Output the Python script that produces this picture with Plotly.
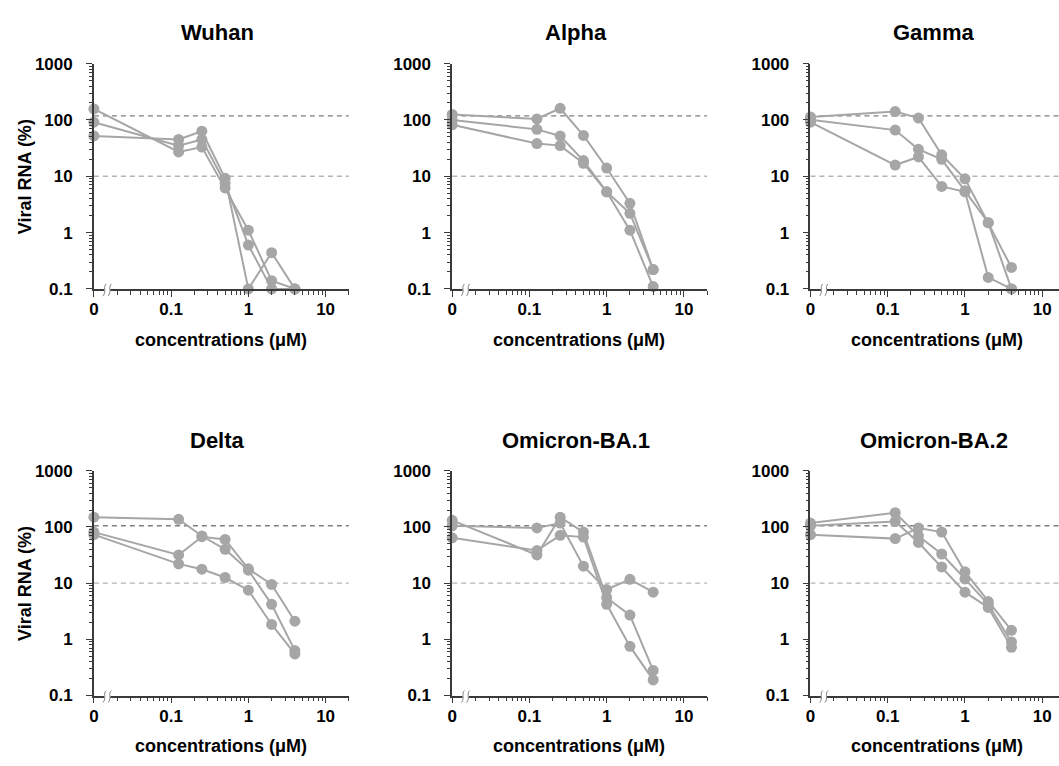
import math
import plotly.graph_objects as go

W, H = 1059, 766

# ---------------- data ----------------
conc = [0, 0.125, 0.25, 0.5, 1, 2, 4]          # µM (0 = no drug)
variants = ["Wuhan", "Alpha", "Gamma", "Delta", "Omicron-BA.1", "Omicron-BA.2"]

wuhan = [[157, 27, 33, 6.2, 1.1, 0.14, 0.1],
         [91, 35, 45, 7.5, 0.6, 0.1, 0.1],
         [52, 45, 63, 9.2, 0.1, 0.44, 0.1]]
alpha = [[125, 104, 161, 53, 14, 3.3, 0.22],
         [100, 68, 52, 19, 5.3, 2.2, 0.22],
         [82, 38, 35, 17, 5.3, 1.1, 0.11]]
gamma = [[113, 141, 108, 24, 9.0, 1.5, 0.24],
         [101, 66, 30, 20, 5.5, 1.5, 0.1],
         [91, 15.8, 22, 6.6, 5.3, 0.16, 0.1]]
delta = [[149, 137, 69, 40, 17, 4.2, 0.63],
         [81, 31.8, 67, 60, 18, 9.5, 2.1],
         [73, 22, 17.7, 12.6, 7.5, 1.84, 0.55]]
ba1 = [[105, 96, 117, 20, 7.7, 11.7, 6.9],
       [131, 31.8, 149, 81, 5.5, 2.7, 0.28],
       [64, 38, 71, 66, 4.2, 0.75, 0.19]]
ba2 = [[117, 179, 69, 33, 11.9, 4.2, 0.9],
       [105, 125, 53, 19.4, 6.9, 3.7, 0.72],
       [73, 62, 96, 81, 15.9, 4.7, 1.45]]
all_series = [wuhan, alpha, gamma, delta, ba1, ba2]

upper_ref = [118, 118, 118, 105, 105, 105]
lower_ref = [10, 10, 10, 10, 10, 10]

x_tickvals = [0.01, 0.1, 1, 10]
x_ticktext = ["0", "0.1", "1", "10"]
x_minor = [0.02, 0.03, 0.04, 0.05, 0.06, 0.07, 0.08, 0.09,
           0.2, 0.3, 0.4, 0.5, 0.6, 0.7, 0.8, 0.9,
           2, 3, 4, 5, 6, 7, 8, 9, 20]
y_tickvals = [0.1, 1, 10, 100, 1000]
y_ticktext = ["0.1", "1", "10", "100", "1000"]
y_minor = [m * d for d in (0.1, 1, 10, 100) for m in range(2, 10)]

ZERO_POS = 0.01   # where "0" sits on the log axis

# ---------------- layout geometry (pixels) ----------------
col_left = [89.3, 449.3, 809.3]
col_right = [345.5, 705.5, 1059]
row_top = [56, 473.5]
row_bot = [287, 704]
decade_px = (345.5 - 89.3) / (math.log10(20) + 2)

FONT = "Liberation Sans, Arial, sans-serif"
GRAY = "#a6a6a6"
AX = "#3a3a3a"

fig = go.Figure()
annotations = []
shapes = []

for i, (name, series) in enumerate(zip(variants, all_series)):
    r, c = divmod(i, 3)
    n = i + 1
    xa = "x" if n == 1 else f"x{n}"
    ya = "y" if n == 1 else f"y{n}"
    xpos = [ZERO_POS if v == 0 else v for v in conc]

    # reference dashed lines
    fig.add_trace(go.Scatter(x=[ZERO_POS, 20], y=[upper_ref[i]] * 2, mode="lines",
                             line=dict(color="#7f7f7f", width=1.3, dash="5px,4px"),
                             xaxis=xa, yaxis=ya, showlegend=False, hoverinfo="skip"))
    fig.add_trace(go.Scatter(x=[ZERO_POS, 20], y=[lower_ref[i]] * 2, mode="lines",
                             line=dict(color="#b4b4b4", width=1.3, dash="5px,4px"),
                             xaxis=xa, yaxis=ya, showlegend=False, hoverinfo="skip"))
    for s in series:
        fig.add_trace(go.Scatter(x=xpos, y=s, mode="lines+markers",
                                 line=dict(color=GRAY, width=2),
                                 marker=dict(color=GRAY, size=11),
                                 cliponaxis=False, xaxis=xa, yaxis=ya,
                                 showlegend=False))

    x0p = col_left[c] / W
    x1p = col_right[c] / W
    y0p = 1 - row_bot[r] / H
    y1p = 1 - row_top[r] / H
    xend = -2 + (col_right[c] - col_left[c]) / decade_px

    axis_common = dict(showline=True, linecolor=AX, linewidth=1.5, ticks="outside",
                       tickcolor=AX, tickwidth=1.3, ticklen=6, showgrid=False,
                       zeroline=False, type="log",
                       tickfont=dict(family=FONT, size=17, color="black", weight="bold"))
    fig.update_layout({
        ("xaxis" if n == 1 else f"xaxis{n}"): dict(
            axis_common, domain=[x0p, x1p], range=[-2, xend], anchor=ya,
            tickmode="array", tickvals=x_tickvals, ticktext=x_ticktext,
            ticklabelstandoff=-2,
            minor=dict(tickmode="array", tickvals=x_minor, ticks="outside",
                       ticklen=4, tickcolor=AX, tickwidth=1.2)),
        ("yaxis" if n == 1 else f"yaxis{n}"): dict(
            axis_common, domain=[y0p, y1p], range=[-1, 3], anchor=xa,
            tickmode="array", tickvals=y_tickvals, ticktext=y_ticktext,
            ticklabelstandoff=10,
            minor=dict(tickmode="array", tickvals=y_minor, ticks="outside",
                       ticklen=3, tickcolor=AX, tickwidth=1.0)),
    })

    # panel title
    cx = (col_left[c] + col_left[c] + 256.2) / 2 - 4
    annotations.append(dict(text=f"<b>{name}</b>", x=cx / W, y=1 - (row_top[r] - 31.5) / H,
                            xref="paper", yref="paper", showarrow=False,
                            xanchor="center", yanchor="middle",
                            font=dict(family=FONT, size=22, color="black")))
    # x-axis title
    annotations.append(dict(text="<b>concentrations (μM)</b>",
                            x=(col_left[c] + 127.5) / W, y=1 - (row_bot[r] + 52) / H,
                            xref="paper", yref="paper", showarrow=False,
                            xanchor="center", yanchor="middle",
                            font=dict(family=FONT, size=18, color="black")))
    if c == 0:
        annotations.append(dict(text="<b>Viral RNA (%)</b>", textangle=-90,
                                x=20 / W, y=1 - (row_top[r] + row_bot[r]) / 2 / H,
                                xref="paper", yref="paper", showarrow=False,
                                xanchor="center", yanchor="middle",
                                font=dict(family=FONT, size=18, color="black")))

    # axis break symbol
    bx = (col_left[c] + 13.5) / W
    by = 1 - row_bot[r] / H
    shapes.append(dict(type="rect", xref="paper", yref="paper",
                       xsizemode="pixel", ysizemode="pixel", xanchor=bx, yanchor=by,
                       x0=-3, x1=3, y0=-2.5, y1=2.5, fillcolor="white",
                       line=dict(width=0), layer="above"))
    for dx in (-2.6, 2.6):
        shapes.append(dict(type="path", xref="paper", yref="paper",
                           xsizemode="pixel", ysizemode="pixel", xanchor=bx, yanchor=by,
                           path=f"M {dx+1.6},5 C {dx-2.2},2 {dx+2.2},-2 {dx-1.6},-7",
                           line=dict(color="#808080", width=1), layer="above"))

fig.update_layout(width=W, height=H, margin=dict(l=0, r=0, t=0, b=0),
                  paper_bgcolor="white", plot_bgcolor="white",
                  annotations=annotations, shapes=shapes, showlegend=False,
                  font=dict(family=FONT))
fig.write_html("out.html")
